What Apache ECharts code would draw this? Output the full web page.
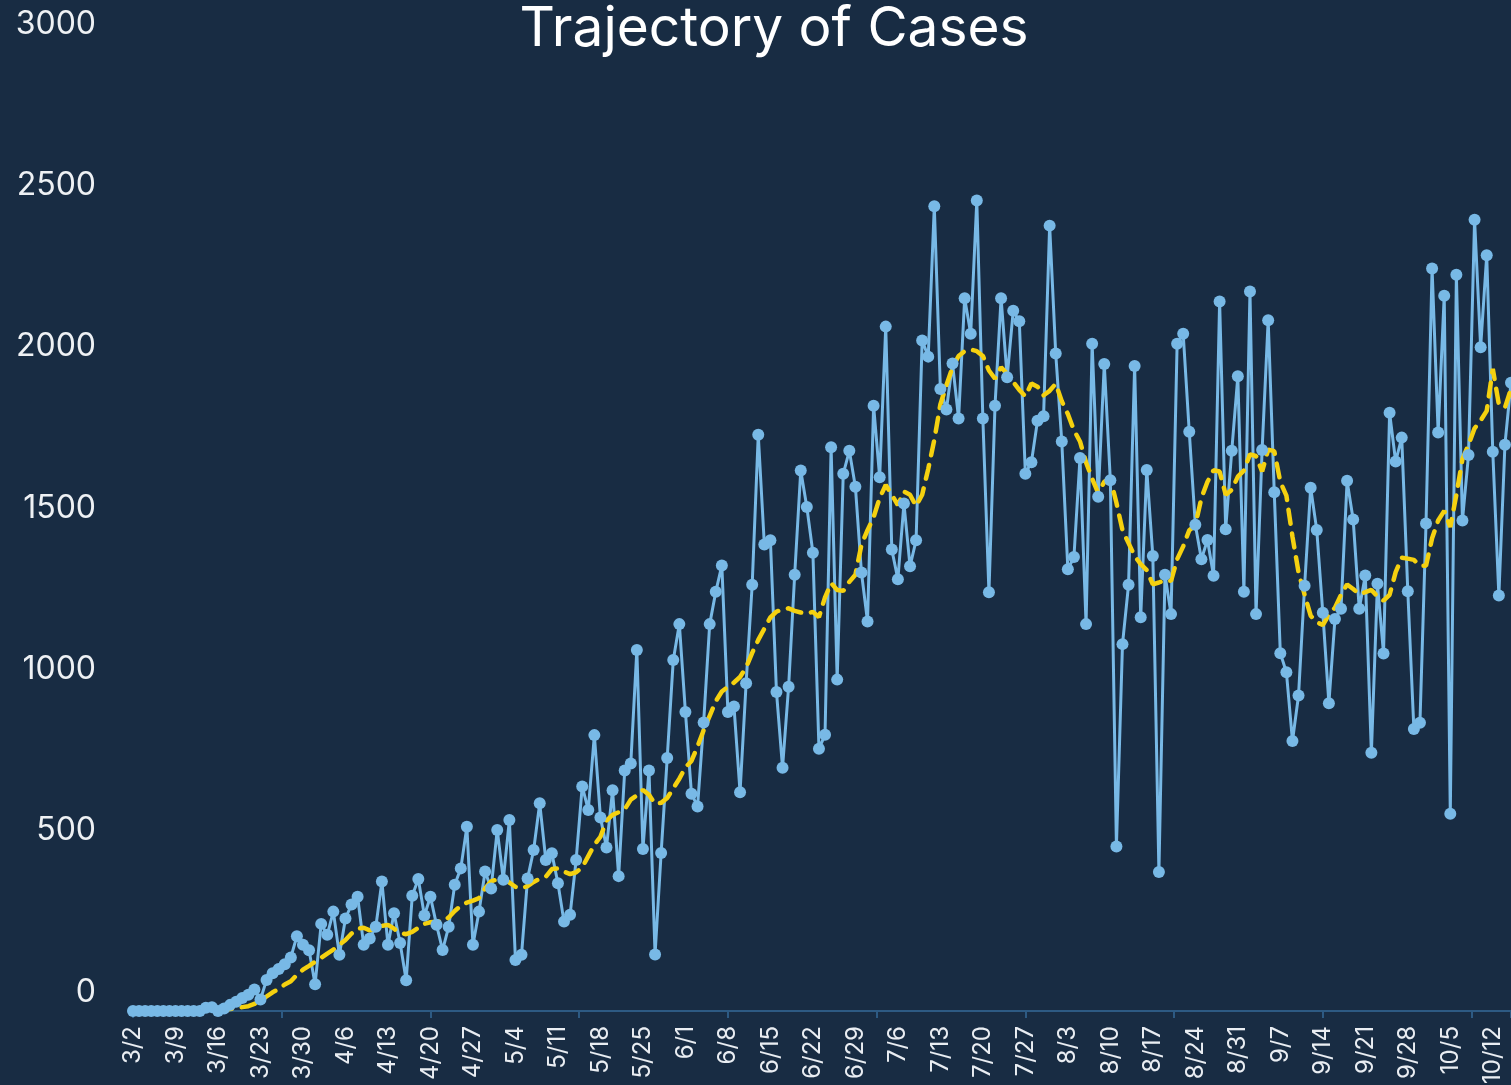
<!DOCTYPE html>
<html>
<head>
<meta charset="utf-8">
<title>Trajectory of Cases</title>
<script src="https://cdn.jsdelivr.net/npm/echarts@6/dist/echarts.min.js"></script>
<style>
  html, body { margin: 0; padding: 0; background: #182c43; }
  #chart { width: 1511px; height: 1085px; }
</style>
</head>
<body>
<div id="chart"></div>
<script>
// daily new cases, one row per week starting on the Monday label
const dailyCases = [
  0, 0, 0, 0, 0, 0, 0,                    // 3/2
  0, 0, 0, 0, 0, 10, 12,                  // 3/9
  0, 8, 19, 29, 40, 50, 67,               // 3/16
  36, 96, 117, 130, 145, 166, 232,        // 3/23
  205, 188, 83, 270, 236, 308, 174,       // 3/30
  287, 330, 354, 205, 225, 261, 401,      // 4/6
  205, 303, 211, 95, 357, 409, 296,       // 4/13
  354, 267, 189, 261, 391, 442, 571,      // 4/20
  205, 308, 432, 380, 561, 407, 592,      // 4/27
  158, 174, 411, 499, 644, 468, 489,      // 5/4
  396, 277, 298, 468, 696, 623, 855,      // 5/11
  600, 507, 684, 418, 745, 767, 1119,     // 5/18
  502, 745, 175, 490, 784, 1088, 1199,    // 5/25
  927, 673, 634, 894, 1199, 1299, 1381,   // 6/1
  927, 944, 678, 1016, 1321, 1786, 1446,  // 6/8
  1459, 989, 754, 1005, 1352, 1675, 1562, // 6/15
  1420, 813, 856, 1747, 1027, 1665, 1736, // 6/22
  1625, 1359, 1207, 1876, 1654, 2121, 1430, // 6/29
  1338, 1573, 1378, 1459, 2078, 2028, 2494, // 7/6
  1928, 1864, 2007, 1836, 2209, 2099, 2512, // 7/13
  1836, 1298, 1876, 2209, 1964, 2170, 2138, // 7/20
  1665, 1701, 1829, 1843, 2434, 2038, 1765, // 7/27
  1369, 1407, 1714, 1199, 2068, 1594, 2005, // 8/3
  1645, 510, 1137, 1321, 1999, 1220, 1677,  // 8/10
  1410, 431, 1352, 1230, 2068, 2099, 1795,  // 8/17
  1507, 1400, 1460, 1349, 2199, 1493, 1736, // 8/24
  1967, 1299, 2230, 1230, 1739, 2141, 1608, // 8/31
  1109, 1050, 837, 978, 1318, 1622, 1491,   // 9/7
  1234, 954, 1215, 1247, 1643, 1523, 1247,  // 9/14
  1350, 800, 1324, 1108, 1854, 1703, 1777,  // 9/21
  1301, 874, 893, 1511, 2301, 1793, 2217,   // 9/28
  611, 2282, 1520, 1723, 2452, 2057, 2342,  // 10/5
  1733, 1288, 1755, 1947                    // 10/12
];

// 7-day average as drawn (yellow dashed)
const movingAvg = [
  null, null, null, null, null, null, null,
  null, null, null, null, null, null, null,
  0, 3, 6, 10, 12, 15, 22,
  32, 45, 58, 68, 82, 92, 112,
  128, 140, 153, 165, 178, 190, 205,
  220, 240, 255, 258, 250, 258, 264,
  267, 255, 242, 238, 245, 258, 270,
  275, 277, 277, 290, 310, 326, 336,
  342, 350, 380, 402, 408, 411, 398,
  385, 380, 387, 400, 410, 416, 440,
  442, 432, 424, 430, 445, 480, 515,
  540, 590, 608, 616, 625, 655, 668,
  685, 670, 642, 645, 660, 690, 720,
  755, 775, 820, 870, 915, 960, 990,
  1005, 1018, 1035, 1065, 1110, 1150, 1185,
  1220, 1238, 1244, 1248, 1240, 1235, 1232,
  1237, 1221, 1282, 1326, 1305, 1302, 1330,
  1352, 1445, 1490, 1530, 1590, 1630, 1600,
  1568, 1610, 1600, 1565, 1600, 1680, 1770,
  1880, 1940, 1995, 2030, 2045, 2050, 2045,
  2030, 1985, 1960, 1995, 1975, 1950, 1925,
  1905, 1945, 1935, 1908, 1922, 1944, 1890,
  1850, 1800, 1765, 1700, 1650, 1605, 1640,
  1650, 1575, 1490, 1450, 1410, 1385, 1366,
  1322, 1328, 1335, 1333, 1400, 1440, 1490,
  1505, 1590, 1640, 1676, 1672, 1600, 1615,
  1656, 1675, 1725, 1720, 1672, 1740, 1735,
  1640, 1597, 1470, 1360, 1290, 1225, 1205,
  1196, 1228, 1250, 1290, 1322, 1308, 1292,
  1298, 1305, 1285, 1272, 1290, 1360, 1405,
  1402, 1398, 1380, 1380, 1465, 1520, 1550,
  1500, 1600, 1710, 1755, 1806, 1830, 1860,
  1990, 1880, 1870, 1928
];

// category labels: M/D from 3/2
const dates = [];
for (let i = 0; i < dailyCases.length; i++) {
  const d = new Date(2020, 2, 2 + i);
  dates.push((d.getMonth() + 1) + '/' + d.getDate());
}

const yTicks = { min: 0, max: 3000, step: 500 };
const axisBlue = '#2d5a83';
const font = 'Inter';

const chart = echarts.init(document.getElementById('chart'));

const option = {
  backgroundColor: '#182c43',
  animation: false,
  title: {
    text: 'Trajectory of Cases',
    left: 769,
    top: -3,
    textAlign: 'center',
    textStyle: { color: '#ffffff', fontSize: 55, fontWeight: 'normal', fontFamily: font }
  },
  grid: { left: 133, right: 0, top: 43, bottom: 74, outerBoundsMode: 'none' },
  xAxis: [
    {
      type: 'category',
      data: dates,
      boundaryGap: false,
      axisLine: { lineStyle: { color: axisBlue, width: 2 } },
      axisTick: { show: false },
      axisLabel: {
        interval: 6,
        rotate: 90,
        color: '#e9edf2',
        fontSize: 24,
        fontFamily: font,
        margin: 15
      }
    },
    {
      // tick marks only, every 3.5 weeks
      type: 'value',
      position: 'bottom',
      min: 0,
      max: dailyCases.length - 1,
      interval: 24.5,
      axisLine: { show: false },
      axisTick: { show: true, length: 7, lineStyle: { color: axisBlue, width: 2 } },
      axisLabel: { show: false },
      splitLine: { show: false }
    }
  ],
  yAxis: {
    type: 'value',
    min: yTicks.min,
    max: yTicks.max,
    interval: yTicks.step,
    axisLine: { show: false },
    axisTick: { show: false },
    splitLine: { show: false },
    axisLabel: {
      color: '#eef1f4',
      fontSize: 32,
      fontFamily: font,
      margin: 37,
      verticalAlign: 'bottom',
      lineHeight: 38,
      formatter: (v) => String(v)
    }
  },
  series: [
    {
      name: 'Cases',
      type: 'line',
      data: dailyCases,
      showAllSymbol: true,
      symbol: 'circle',
      symbolSize: 12,
      lineStyle: { color: '#78b9e6', width: 3 },
      itemStyle: { color: '#78b9e6' }
    },
    {
      name: '7-day average',
      type: 'line',
      data: movingAvg,
      symbol: 'none',
      lineStyle: { color: '#f5d10f', width: 4.5, type: [14, 10], cap: 'round' }
    }
  ]
};

chart.setOption(option);
</script>
</body>
</html>
